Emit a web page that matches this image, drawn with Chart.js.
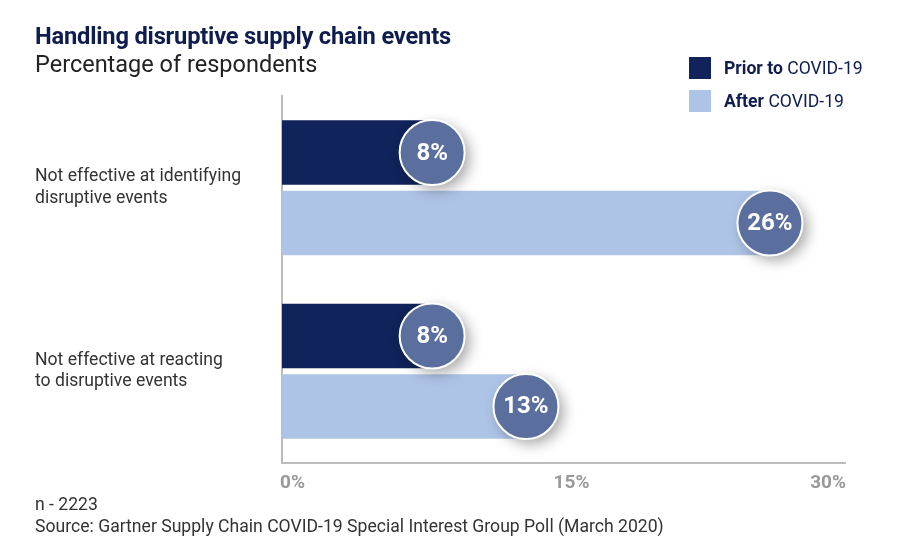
<!DOCTYPE html>
<html>
<head>
<meta charset="utf-8">
<script src="https://cdn.jsdelivr.net/npm/chart.js"></script>
<style>
  html, body { margin:0; padding:0; background:#fff; }
  body { width:900px; height:553px; position:relative; overflow:hidden; font-family: Roboto, "Noto Sans", sans-serif; }
  #wrap { position:absolute; left:0; top:0; width:900px; height:553px; }
  .title { position:absolute; left:35px; top:22px; font-size:23.7px; font-weight:700; color:#0f1d4e; letter-spacing:-0.2px; white-space:nowrap; }
  .subtitle { position:absolute; left:35px; top:50px; font-size:23.5px; font-weight:400; color:#222; white-space:nowrap; }
  .legend { position:absolute; left:689px; font-size:17.6px; color:#0f1d4e; white-space:nowrap; }
  .legend .sw { display:inline-block; width:22px; height:22px; vertical-align:middle; margin-right:13px; }
  .legend span.t { vertical-align:middle; }
  .footer { position:absolute; left:35px; font-size:17.6px; color:#333; white-space:nowrap; }
</style>
</head>
<body>
<div id="wrap"><canvas id="c" width="900" height="553"></canvas></div>
<div class="title">Handling disruptive supply chain events</div>
<div class="subtitle">Percentage of respondents</div>
<div class="legend" style="top:57px"><span class="sw" style="background:#10235a"></span><span class="t"><b>Prior to</b> COVID-19</span></div>
<div class="legend" style="top:90px"><span class="sw" style="background:#aec4e6"></span><span class="t"><b>After</b> COVID-19</span></div>
<div class="footer" style="top:494px">n - 2223</div>
<div class="footer" style="top:516px">Source: Gartner Supply Chain COVID-19 Special Interest Group Poll (March 2020)</div>
<script>
const categories = [
  ["Not effective at identifying", "disruptive events"],
  ["Not effective at reacting", "to disruptive events"]
];
const seriesNames = ["Prior to COVID-19", "After COVID-19"];
const priorValues = [8, 8];
const afterValues = [26, 13];
const tickValues = [0, 15, 30];
const tickLabels = ["0%", "15%", "30%"];

const bubblePlugin = {
  id: 'bubbles',
  afterDatasetsDraw(chart) {
    const ctx = chart.ctx;
    chart.data.datasets.forEach((ds, di) => {
      const meta = chart.getDatasetMeta(di);
      meta.data.forEach((bar, i) => {
        const x = bar.x, y = bar.y, r = 32.5;
        ctx.save();
        ctx.shadowColor = 'rgba(0,0,0,0.35)';
        ctx.shadowBlur = 14;
        ctx.shadowOffsetX = 5;
        ctx.shadowOffsetY = 5;
        ctx.beginPath();
        ctx.arc(x, y, r, 0, Math.PI * 2);
        ctx.fillStyle = '#5a6f9d';
        ctx.fill();
        ctx.restore();
        ctx.save();
        ctx.beginPath();
        ctx.arc(x, y, r, 0, Math.PI * 2);
        ctx.lineWidth = 2;
        ctx.strokeStyle = '#ffffff';
        ctx.stroke();
        ctx.fillStyle = '#ffffff';
        ctx.font = 'bold 24px Roboto';
        ctx.textAlign = 'center';
        ctx.textBaseline = 'middle';
        ctx.fillText(ds.data[i] + '%', x, y + 1);
        ctx.restore();
      });
    });
  }
};

const xTickPlugin = {
  id: 'xticks',
  afterDraw(chart) {
    const ctx = chart.ctx;
    const xs = chart.scales.x;
    ctx.save();
    ctx.fillStyle = '#999999';
    ctx.font = 'bold 19px Roboto';
    ctx.textBaseline = 'middle';
    tickValues.forEach((v, i) => {
      const px = xs.getPixelForValue(v);
      const last = i === tickValues.length - 1;
      ctx.textAlign = i === 0 ? 'left' : (last ? 'right' : 'center');
      ctx.fillText(tickLabels[i], i === 0 ? px - 2 : (last ? px + 1 : px + 8), 483);
    });
    ctx.restore();
  }
};

new Chart(document.getElementById('c'), {
  type: 'bar',
  data: {
    labels: categories,
    datasets: [
      { label: seriesNames[0], data: priorValues, backgroundColor: '#10235a', barPercentage: 0.915, categoryPercentage: 0.768 },
      { label: seriesNames[1], data: afterValues, backgroundColor: '#aec4e6', barPercentage: 0.915, categoryPercentage: 0.768 }
    ]
  },
  options: {
    indexAxis: 'y',
    responsive: false,
    animation: false,
    layout: { padding: { left: 35, right: 55, top: 96, bottom: 90 } },
    plugins: { legend: { display: false }, tooltip: { enabled: false }, title: { display: false } },
    scales: {
      x: {
        min: 0, max: 30,
        ticks: { display: false, stepSize: 15 },
        grid: { display: false },
        border: { display: true, color: '#bdbdbd', width: 2 },
        afterFit(s) { s.height = 0; }
      },
      y: {
        ticks: { color: '#333', font: { family: 'Roboto', size: 17.6, lineHeight: 1.22 }, crossAlign: 'far', padding: 0 },
        grid: { display: false },
        border: { display: true, color: '#bdbdbd', width: 2 },
        afterFit(s) { s.width = 247; }
      }
    }
  },
  plugins: [bubblePlugin, xTickPlugin]
});
</script>
</body>
</html>
